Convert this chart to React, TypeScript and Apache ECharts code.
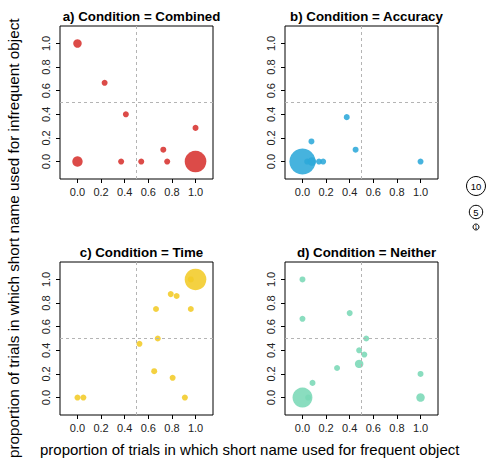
import React, { useEffect, useRef } from "react";
import * as echarts from "echarts";

const panelTitles = [
  "a) Condition = Combined",
  "b) Condition = Accuracy",
  "c) Condition = Time",
  "d) Condition = Neither",
];
const colors = ["#D7322F", "#2CA9DA", "#F2CB27", "#7AD8B6"];

const combinedX = [0, 0.23, 0.41, 1.0, 0.727, 0, 0.37, 0.54, 0.76, 1.0];
const combinedY = [1, 0.667, 0.4, 0.285, 0.1, 0, 0, 0, 0, 0];
const combinedN = [2, 1, 1, 1, 1, 3, 1, 1, 1, 13];

const accuracyX = [0, 0.04, 0.08, 0.14, 0.175, 0.076, 0.375, 0.45, 1.0];
const accuracyY = [0, 0, 0, 0, 0, 0.17, 0.376, 0.1, 0];
const accuracyN = [19, 1, 2, 1, 1, 1, 1, 1, 1];

const timeX = [1.0, 0.96, 0.79, 0.84, 0.665, 0.96, 0.68, 0.525, 0.65, 0.806, 0.91, 0, 0.05];
const timeY = [1.0, 1.0, 0.876, 0.86, 0.75, 0.75, 0.5, 0.455, 0.223, 0.167, 0, 0, 0];
const timeN = [13, 1, 1, 1, 1, 1, 1, 1, 1, 1, 1, 1, 1];

const neitherX = [0, 0, 0.4, 0.54, 0.48, 0.524, 0.48, 0.293, 1.0, 0.085, 0, 0.048, 1.0];
const neitherY = [1, 0.667, 0.715, 0.5, 0.4, 0.364, 0.285, 0.25, 0.2, 0.124, 0, 0, 0];
const neitherN = [1, 1, 1, 1, 1, 1, 2, 1, 1, 1, 11, 1, 2];

const tickValues = [0, 0.2, 0.4, 0.6, 0.8, 1.0];
const legendCounts = [10, 5, 1];

const xTitle = "proportion of trials in which short name used for frequent object";
const yTitle = "proportion of trials in which short name used for infrequent object";

const panels = [
  [combinedX, combinedY, combinedN],
  [accuracyX, accuracyY, accuracyN],
  [timeX, timeY, timeN],
  [neitherX, neitherY, neitherN],
];

const FONT = "'Liberation Sans', Arial, Helvetica, sans-serif";

export default function App() {
  const ref = useRef<HTMLDivElement>(null);
  useEffect(() => {
    if (!ref.current) return;
    const chart = echarts.init(ref.current, null, { renderer: "svg" });
    const lefts = [60, 285, 60, 285];
    const tops = [26, 26, 262, 262];
    const size = 153;
    const sizeOf = (n: number) => 6 * Math.sqrt(n);

    const grids = lefts.map((l, i) => ({
      left: l,
      top: tops[i],
      width: size,
      height: size,
      show: true,
      borderColor: "#000",
      borderWidth: 1,
      backgroundColor: "transparent",
    }));
    const axisCommon = {
      type: "value",
      min: -0.148,
      max: 1.148,
      splitLine: { show: false },
      axisLine: { show: false, onZero: false },
      axisTick: {
        show: true,
        length: 4,
        customValues: tickValues,
        lineStyle: { color: "#000", width: 1 },
      },
    };
    const xAxes = lefts.map((_, i) => ({
      ...axisCommon,
      gridIndex: i,
      position: "bottom",
      axisLabel: {
        customValues: tickValues,
        formatter: (v: number) => v.toFixed(1),
        fontSize: 11,
        fontFamily: FONT,
        color: "#222",
        margin: 7,
      },
    }));
    const yAxes = lefts.map((_, i) => ({
      ...axisCommon,
      gridIndex: i,
      position: "left",
      axisLabel: {
        customValues: tickValues,
        formatter: (v: number) => v.toFixed(1),
        fontSize: 11,
        fontFamily: FONT,
        color: "#222",
        rotate: 90,
        margin: 9,
      },
    }));
    const series = panels.map(([xs, ys, ns], i) => ({
      type: "scatter",
      xAxisIndex: i,
      yAxisIndex: i,
      data: xs.map((x, j) => [x, ys[j], ns[j]]),
      symbolSize: (v: number[]) => sizeOf(v[2]),
      itemStyle: { color: colors[i], opacity: 0.88 },
      markLine: {
        silent: true,
        symbol: "none",
        label: { show: false },
        lineStyle: { color: "#b4b4b4", type: [3, 3], width: 1 },
        data: [{ xAxis: 0.5 }, { yAxis: 0.5 }],
      },
    }));
    const titles = panelTitles.map((t, i) => ({
      text: t,
      left: lefts[i] + size / 2,
      top: tops[i] - 21,
      textAlign: "center",
      textStyle: { fontSize: 13.3, fontWeight: "bold", fontFamily: FONT, color: "#000" },
    }));

    const legendY = [186, 212, 227];
    const graphic: any[] = [
      {
        type: "text",
        left: 40,
        top: 442,
        style: { text: xTitle, fontSize: 15, fontFamily: FONT, fill: "#000" },
      },
      {
        type: "text",
        x: 6,
        y: 458,
        rotation: Math.PI / 2,
        style: { text: yTitle, fontSize: 15.3, fontFamily: FONT, fill: "#000", textVerticalAlign: "top" },
      },
    ];
    legendCounts.forEach((n, k) => {
      graphic.push({
        type: "circle",
        shape: { cx: 476, cy: legendY[k], r: sizeOf(n) / 2 },
        style: { fill: "#fff", stroke: "#000", lineWidth: 1 },
      });
      graphic.push({
        type: "text",
        x: 476,
        y: legendY[k],
        style: {
          text: String(n),
          fontSize: n === 1 ? 5 : 9.5,
          fontFamily: FONT,
          fill: "#000",
          align: "center",
          verticalAlign: "middle",
        },
      });
    });

    chart.setOption({
      animation: false,
      backgroundColor: "#fff",
      title: titles,
      grid: grids,
      xAxis: xAxes,
      yAxis: yAxes,
      series,
      graphic,
    } as any);
    return () => chart.dispose();
  }, []);
  return <div ref={ref} style={{ width: 486, height: 464, position: "absolute", left: 0, top: 0 }} />;
}
